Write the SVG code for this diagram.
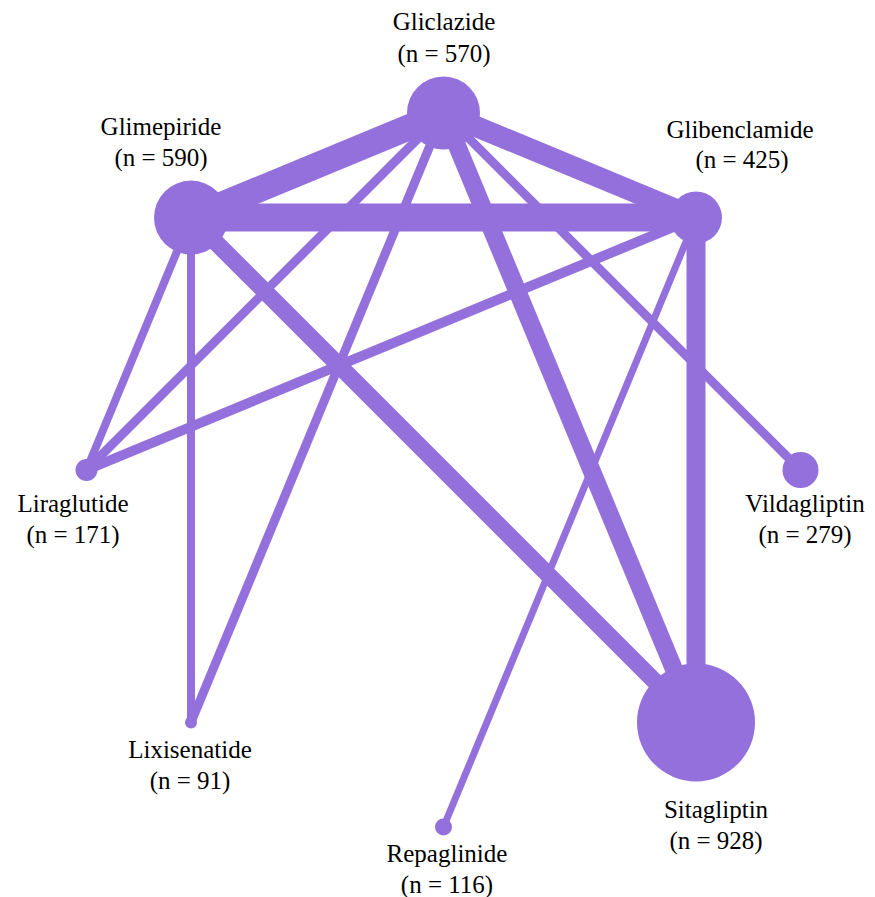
<svg xmlns="http://www.w3.org/2000/svg" width="875" height="897" viewBox="0 0 875 897">
<style>
.e{stroke:#9370DB;fill:none;stroke-linecap:butt}
.n{fill:#9370DB}
text{font-family:"Liberation Serif","Times New Roman",serif;font-size:25px;fill:#000;text-anchor:middle}
</style>
<rect width="875" height="897" fill="#fff"/>
<g id="edges">
<line class="e" x1="443.5" y1="113" x2="191" y2="217.6" stroke-width="26"/>
<line class="e" x1="443.5" y1="113" x2="696" y2="217.6" stroke-width="21"/>
<line class="e" x1="191" y1="217.6" x2="696" y2="217.6" stroke-width="28"/>
<line class="e" x1="443.5" y1="113" x2="696" y2="722.4" stroke-width="18"/>
<line class="e" x1="191" y1="217.6" x2="696" y2="722.4" stroke-width="17"/>
<line class="e" x1="696" y1="217.6" x2="696" y2="722.4" stroke-width="19"/>
<line class="e" x1="443.5" y1="113" x2="86.5" y2="470" stroke-width="9"/>
<line class="e" x1="443.5" y1="113" x2="191" y2="722.4" stroke-width="9"/>
<line class="e" x1="443.5" y1="113" x2="800.5" y2="470" stroke-width="9"/>
<line class="e" x1="191" y1="217.6" x2="86.5" y2="470" stroke-width="8"/>
<line class="e" x1="191" y1="217.6" x2="191" y2="722.4" stroke-width="8"/>
<line class="e" x1="696" y1="217.6" x2="86.5" y2="470" stroke-width="10"/>
<line class="e" x1="696" y1="217.6" x2="443.5" y2="827" stroke-width="7"/>
</g>
<g id="node-gliclazide"><circle class="n" cx="443.5" cy="113" r="36.5"/><text x="444" y="30">Gliclazide</text><text x="444" y="62">(n = 570)</text></g>
<g id="node-glimepiride"><circle class="n" cx="191" cy="217.6" r="37"/><text x="161" y="135">Glimepiride</text><text x="161" y="166">(n = 590)</text></g>
<g id="node-glibenclamide"><circle class="n" cx="696" cy="217.6" r="26"/><text x="740" y="138">Glibenclamide</text><text x="742" y="168">(n = 425)</text></g>
<g id="node-liraglutide"><circle class="n" cx="86.5" cy="470" r="11"/><text x="73" y="512">Liraglutide</text><text x="73" y="543">(n = 171)</text></g>
<g id="node-vildagliptin"><circle class="n" cx="800.5" cy="470" r="18"/><text x="805" y="512">Vildagliptin</text><text x="805" y="543">(n = 279)</text></g>
<g id="node-lixisenatide"><circle class="n" cx="191" cy="722.4" r="6"/><text x="190" y="758">Lixisenatide</text><text x="190" y="789">(n = 91)</text></g>
<g id="node-sitagliptin"><circle class="n" cx="696" cy="722.4" r="59"/><text x="716" y="818">Sitagliptin</text><text x="716" y="849">(n = 928)</text></g>
<g id="node-repaglinide"><circle class="n" cx="443.5" cy="827" r="8.5"/><text x="447" y="862">Repaglinide</text><text x="447" y="893">(n = 116)</text></g>
</svg>
